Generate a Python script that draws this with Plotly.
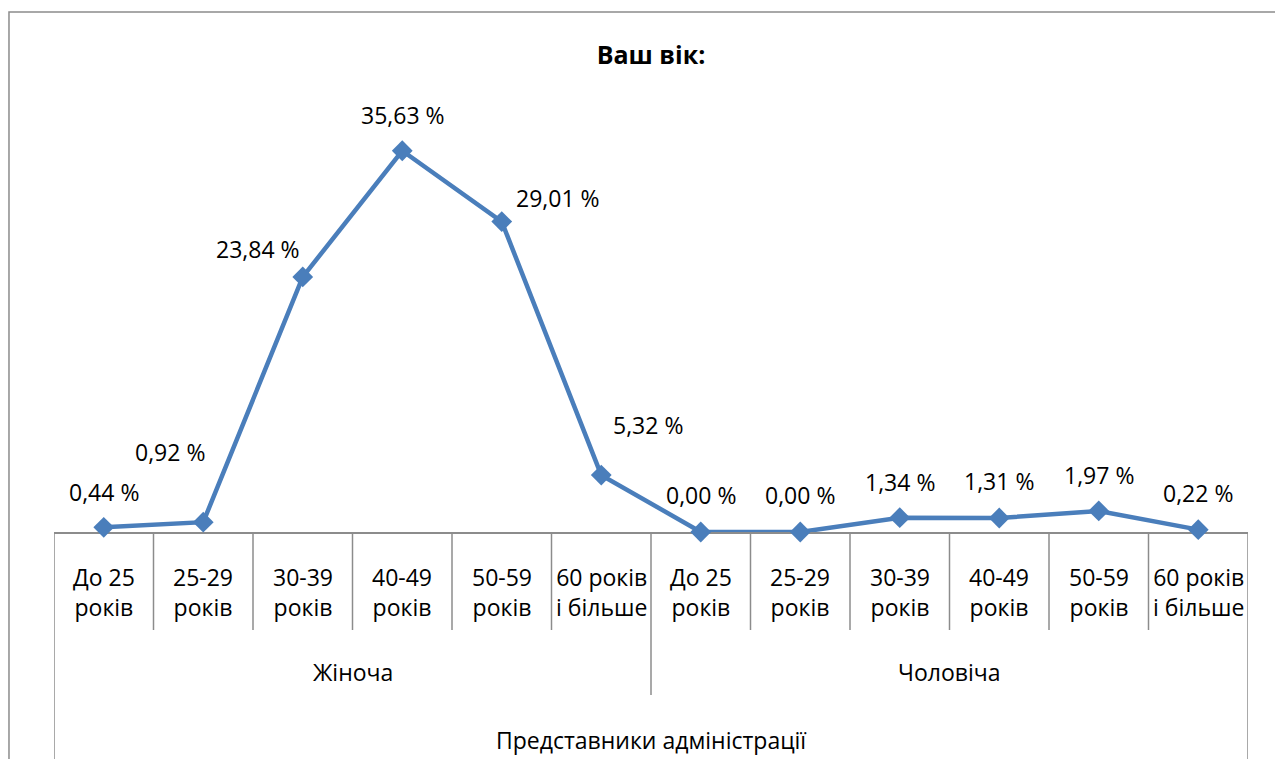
import plotly.graph_objects as go

# ---- data ----
age_groups = ["До 25<br>років", "25-29<br>років", "30-39<br>років", "40-49<br>років",
              "50-59<br>років", "60 років<br>і більше"] * 2
genders = ["Жіноча", "Чоловіча"]
group_label = "Представники адміністрації"
values = [0.44, 0.92, 23.84, 35.63, 29.01, 5.32, 0.00, 0.00, 1.34, 1.31, 1.97, 0.22]
value_labels = ["0,44 %", "0,92 %", "23,84 %", "35,63 %", "29,01 %", "5,32 %",
                "0,00 %", "0,00 %", "1,34 %", "1,31 %", "1,97 %", "0,22 %"]
title_text = "Ваш вік:"

# label offsets (pixels) as placed in the original chart
label_dx = [0, -33, -45, 1, 56, 47, 0, 0, 0, 0, 0, 0]
label_dy = [35, 70, 28, 36, 24, 50, 37, 37, 36, 37, 36, 37]

FONT = "Open Sans"
GREY = "#8c8c8c"
BLUE = "#4a7ebb"
FS = 23

n = len(values)
xs = list(range(n))

fig = go.Figure()
fig.add_trace(go.Scatter(
    x=xs, y=values, mode="lines+markers",
    line=dict(color=BLUE, width=4.5),
    marker=dict(symbol="diamond", size=16, color=BLUE),
    cliponaxis=False, hoverinfo="skip", showlegend=False,
))

annotations = []
for i, (v, t) in enumerate(zip(values, value_labels)):
    annotations.append(dict(
        x=i, y=v, xref="x", yref="y", text=t, showarrow=False,
        xshift=label_dx[i], yshift=label_dy[i],
        font=dict(family=FONT, size=FS, color="black"),
        xanchor="center", yanchor="middle",
    ))

# first-level category labels
for i, lab in enumerate(age_groups):
    annotations.append(dict(
        x=i, y=-0.140, xref="x", yref="paper", text=lab, showarrow=False,
        font=dict(family=FONT, size=FS, color="black"),
        xanchor="center", yanchor="middle",
    ))
# second level
per = n // len(genders)
for g, lab in enumerate(genders):
    annotations.append(dict(
        x=g * per + (per - 1) / 2, y=-0.327, xref="x", yref="paper", text=lab,
        showarrow=False, font=dict(family=FONT, size=FS, color="black"),
        xanchor="center", yanchor="middle",
    ))
# third level
annotations.append(dict(
    x=(n - 1) / 2, y=-0.486, xref="x", yref="paper", text=group_label,
    showarrow=False, font=dict(family=FONT, size=FS, color="black"),
    xanchor="center", yanchor="middle",
))

shapes = []
for i in range(n + 1):
    if i in (0, n):
        y1 = -0.58
    elif i % per == 0:
        y1 = -0.381
    else:
        y1 = -0.229
    shapes.append(dict(type="line", xref="x", yref="paper", x0=i - 0.5, x1=i - 0.5,
                       y0=0, y1=y1, line=dict(color=GREY, width=1.5), layer="below"))

# chart border
shapes.append(dict(type="rect", xref="paper", yref="paper",
                   x0=-0.0377, x1=1.2, y0=1.215, y1=-0.7,
                   line=dict(color=GREY, width=1.5), fillcolor="rgba(0,0,0,0)", layer="below"))

fig.update_layout(
    width=1267, height=751,
    margin=dict(l=46, r=27, t=96, b=227),
    paper_bgcolor="white", plot_bgcolor="white",
    title=dict(text="<b>" + title_text + "</b>", x=0.5, xref="paper",
               y=1 - 47 / 751, yref="container", xanchor="center", yanchor="middle",
               font=dict(family=FONT, size=25, color="black")),
    xaxis=dict(range=[-0.5, n - 0.5], showgrid=False, zeroline=False,
               showticklabels=False, ticks="", showline=True, linecolor=GREY,
               linewidth=1.5, layer="below traces", fixedrange=True),
    yaxis=dict(range=[0, 40], visible=False, fixedrange=True),
    annotations=annotations, shapes=shapes,
)

fig.write_html("out.html")
